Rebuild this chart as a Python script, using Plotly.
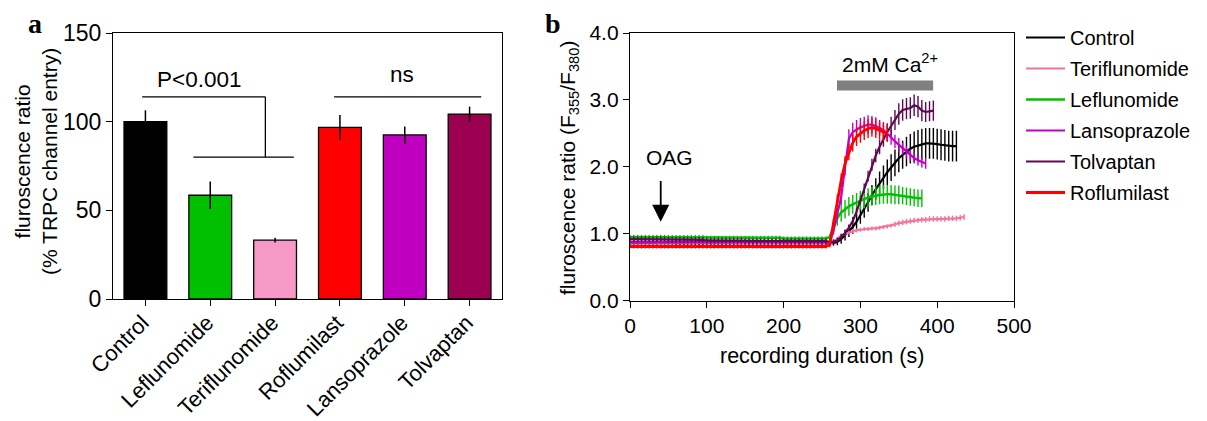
import plotly.graph_objects as go

W, H = 1207, 421

# ---------------- Panel a data ----------------
bar_categories = ["Control", "Leflunomide", "Teriflunomide", "Roflumilast", "Lansoprazole", "Tolvaptan"]
bar_values = [100.0, 58.5, 33.2, 96.8, 92.5, 104.3]
bar_errors = [6.4, 7.8, 1.3, 7.0, 4.8, 4.2]
bar_colors = ["#000000", "#00C000", "#F799C6", "#FF0000", "#C000C0", "#9C0050"]

# ---------------- Panel b data (sampled every 5 s) ----------------
sample_step_s = 5

control_vals = [
    0.86, 0.86, 0.86, 0.86, 0.86, 0.86, 0.86, 0.86, 0.86, 0.86,
    0.86, 0.86, 0.85, 0.85, 0.85, 0.85, 0.85, 0.85, 0.85, 0.85,
    0.85, 0.85, 0.85, 0.85, 0.85, 0.85, 0.85, 0.85, 0.85, 0.85,
    0.85, 0.85, 0.85, 0.85, 0.85, 0.85, 0.85, 0.85, 0.85, 0.85,
    0.85, 0.85, 0.85, 0.85, 0.85, 0.85, 0.85, 0.85, 0.85, 0.85,
    0.85, 0.85,
    0.85, 0.86, 0.88, 0.92, 0.98, 1.04, 1.10, 1.18, 1.27, 1.37,
    1.47, 1.58, 1.67, 1.76, 1.84, 1.92, 1.99, 2.06, 2.13, 2.18,
    2.23, 2.27, 2.30, 2.32, 2.34, 2.35, 2.35, 2.35, 2.34, 2.33,
    2.32, 2.31, 2.31, 2.31,
]
control_err = [
    0.02, 0.02, 0.02, 0.02, 0.02, 0.02, 0.02, 0.02, 0.02, 0.02,
    0.02, 0.02, 0.02, 0.02, 0.02, 0.02, 0.02, 0.02, 0.02, 0.02,
    0.02, 0.02, 0.02, 0.02, 0.02, 0.02, 0.02, 0.02, 0.02, 0.02,
    0.02, 0.02, 0.02, 0.02, 0.02, 0.02, 0.02, 0.02, 0.02, 0.02,
    0.02, 0.02, 0.02, 0.02, 0.02, 0.02, 0.02, 0.02, 0.02, 0.02,
    0.02, 0.02,
    0.03, 0.04, 0.05, 0.07, 0.08, 0.09, 0.10, 0.11, 0.12, 0.13,
    0.14, 0.15, 0.16, 0.17, 0.18, 0.19, 0.20, 0.20, 0.21, 0.21,
    0.22, 0.22, 0.23, 0.23, 0.23, 0.23, 0.23, 0.23, 0.23, 0.23,
    0.23, 0.23, 0.23, 0.23,
]

teri_vals = [
    0.87, 0.87, 0.87, 0.87, 0.87, 0.87, 0.87, 0.87, 0.87, 0.87,
    0.87, 0.87, 0.87, 0.87, 0.87, 0.87, 0.87, 0.87, 0.87, 0.87,
    0.87, 0.87, 0.87, 0.87, 0.87, 0.87, 0.87, 0.87, 0.87, 0.87,
    0.87, 0.87, 0.87, 0.87, 0.87, 0.87, 0.87, 0.87, 0.87, 0.87,
    0.87, 0.87, 0.87, 0.87, 0.87, 0.87, 0.87, 0.87, 0.87, 0.87,
    0.87, 0.87,
    0.86, 0.88, 0.93, 0.97, 1.00, 1.02, 1.04, 1.05, 1.06, 1.07,
    1.07, 1.08, 1.08, 1.09, 1.10, 1.11, 1.12, 1.14, 1.16, 1.17,
    1.18, 1.19, 1.20, 1.20, 1.21, 1.21, 1.22, 1.22, 1.22, 1.22,
    1.22, 1.23, 1.23, 1.23, 1.24, 1.25,
]
teri_err = [
    0.02, 0.02, 0.02, 0.02, 0.02, 0.02, 0.02, 0.02, 0.02, 0.02,
    0.02, 0.02, 0.02, 0.02, 0.02, 0.02, 0.02, 0.02, 0.02, 0.02,
    0.02, 0.02, 0.02, 0.02, 0.02, 0.02, 0.02, 0.02, 0.02, 0.02,
    0.02, 0.02, 0.02, 0.02, 0.02, 0.02, 0.02, 0.02, 0.02, 0.02,
    0.02, 0.02, 0.02, 0.02, 0.02, 0.02, 0.02, 0.02, 0.02, 0.02,
    0.02, 0.02,
    0.02, 0.03, 0.03, 0.03, 0.03, 0.03, 0.03, 0.03, 0.03, 0.03,
    0.03, 0.03, 0.03, 0.03, 0.03, 0.03, 0.03, 0.04, 0.04, 0.04,
    0.04, 0.04, 0.04, 0.04, 0.04, 0.04, 0.04, 0.04, 0.04, 0.04,
    0.04, 0.04, 0.04, 0.04, 0.04, 0.04,
]

lef_vals = [
    0.95, 0.95, 0.95, 0.95, 0.95, 0.95, 0.95, 0.95, 0.95, 0.95,
    0.95, 0.95, 0.95, 0.95, 0.95, 0.95, 0.95, 0.95, 0.95, 0.95,
    0.94, 0.94, 0.94, 0.94, 0.94, 0.94, 0.94, 0.94, 0.94, 0.94,
    0.94, 0.94, 0.94, 0.94, 0.94, 0.94, 0.94, 0.94, 0.94, 0.94,
    0.93, 0.93, 0.93, 0.93, 0.93, 0.93, 0.93, 0.93, 0.93, 0.93,
    0.93, 0.93,
    0.95, 1.10, 1.24, 1.32, 1.37, 1.41, 1.44, 1.47, 1.50, 1.52,
    1.54, 1.56, 1.57, 1.58, 1.59, 1.59, 1.59, 1.58, 1.58, 1.57,
    1.56, 1.55, 1.54, 1.53, 1.53,
]
lef_err = [
    0.03, 0.03, 0.03, 0.03, 0.03, 0.03, 0.03, 0.03, 0.03, 0.03,
    0.03, 0.03, 0.03, 0.03, 0.03, 0.03, 0.03, 0.03, 0.03, 0.03,
    0.03, 0.03, 0.03, 0.03, 0.03, 0.03, 0.03, 0.03, 0.03, 0.03,
    0.03, 0.03, 0.03, 0.03, 0.03, 0.03, 0.03, 0.03, 0.03, 0.03,
    0.03, 0.03, 0.03, 0.03, 0.03, 0.03, 0.03, 0.03, 0.03, 0.03,
    0.03, 0.03,
    0.04, 0.08, 0.12, 0.14, 0.14, 0.14, 0.14, 0.14, 0.14, 0.14,
    0.14, 0.14, 0.14, 0.14, 0.14, 0.14, 0.14, 0.14, 0.14, 0.13,
    0.13, 0.13, 0.13, 0.13, 0.13,
]

lans_vals = [
    0.88, 0.88, 0.88, 0.88, 0.88, 0.88, 0.88, 0.88, 0.88, 0.88,
    0.88, 0.88, 0.88, 0.88, 0.88, 0.88, 0.88, 0.88, 0.88, 0.88,
    0.87, 0.87, 0.87, 0.87, 0.87, 0.87, 0.87, 0.87, 0.87, 0.87,
    0.87, 0.87, 0.87, 0.87, 0.87, 0.87, 0.87, 0.87, 0.87, 0.87,
    0.87, 0.87, 0.87, 0.87, 0.87, 0.87, 0.87, 0.87, 0.87, 0.87,
    0.87, 0.87,
    0.87, 1.05, 1.30, 1.55, 2.00, 2.42, 2.52, 2.56, 2.59, 2.61,
    2.63, 2.63, 2.61, 2.58, 2.55, 2.50, 2.44, 2.38, 2.33, 2.27,
    2.22, 2.17, 2.13, 2.10, 2.07, 2.05,
]
lans_err = [
    0.03, 0.03, 0.03, 0.03, 0.03, 0.03, 0.03, 0.03, 0.03, 0.03,
    0.03, 0.03, 0.03, 0.03, 0.03, 0.03, 0.03, 0.03, 0.03, 0.03,
    0.03, 0.03, 0.03, 0.03, 0.03, 0.03, 0.03, 0.03, 0.03, 0.03,
    0.03, 0.03, 0.03, 0.03, 0.03, 0.03, 0.03, 0.03, 0.03, 0.03,
    0.03, 0.03, 0.03, 0.03, 0.03, 0.03, 0.03, 0.03, 0.03, 0.03,
    0.03, 0.03,
    0.03, 0.06, 0.09, 0.11, 0.13, 0.14, 0.14, 0.14, 0.14, 0.14,
    0.14, 0.13, 0.13, 0.12, 0.12, 0.11, 0.11, 0.10, 0.10, 0.09,
    0.09, 0.09, 0.08, 0.08, 0.08, 0.08,
]

tolv_vals = [
    0.92, 0.92, 0.92, 0.92, 0.92, 0.92, 0.92, 0.92, 0.92, 0.92,
    0.91, 0.91, 0.91, 0.91, 0.91, 0.91, 0.91, 0.91, 0.91, 0.91,
    0.90, 0.90, 0.90, 0.90, 0.90, 0.90, 0.90, 0.90, 0.90, 0.90,
    0.89, 0.89, 0.89, 0.89, 0.89, 0.89, 0.89, 0.89, 0.89, 0.89,
    0.89, 0.89, 0.89, 0.89, 0.89, 0.89, 0.89, 0.89, 0.89, 0.89,
    0.89, 0.89,
    0.88, 0.88, 0.90, 0.95, 1.01, 1.09, 1.19, 1.33, 1.50, 1.68,
    1.86, 2.03, 2.17, 2.30, 2.42, 2.52, 2.61, 2.70, 2.79, 2.85,
    2.87, 2.88, 2.92, 2.90, 2.84, 2.82, 2.83, 2.84,
]
tolv_err = [
    0.04, 0.04, 0.04, 0.04, 0.04, 0.04, 0.04, 0.04, 0.04, 0.04,
    0.04, 0.04, 0.04, 0.04, 0.04, 0.04, 0.04, 0.04, 0.04, 0.04,
    0.04, 0.04, 0.04, 0.04, 0.04, 0.04, 0.04, 0.04, 0.04, 0.04,
    0.04, 0.04, 0.04, 0.04, 0.04, 0.04, 0.04, 0.04, 0.04, 0.04,
    0.04, 0.04, 0.04, 0.04, 0.04, 0.04, 0.04, 0.04, 0.04, 0.04,
    0.04, 0.04,
    0.04, 0.04, 0.04, 0.05, 0.05, 0.05, 0.06, 0.06, 0.06, 0.07,
    0.08, 0.09, 0.10, 0.11, 0.12, 0.13, 0.14, 0.15, 0.16, 0.16,
    0.16, 0.16, 0.16, 0.16, 0.16, 0.15, 0.15, 0.15,
]

rofl_vals = [
    0.81, 0.81, 0.81, 0.81, 0.81, 0.81, 0.81, 0.81, 0.81, 0.81,
    0.81, 0.81, 0.81, 0.81, 0.81, 0.81, 0.81, 0.81, 0.81, 0.81,
    0.81, 0.81, 0.81, 0.81, 0.81, 0.81, 0.81, 0.81, 0.81, 0.81,
    0.81, 0.81, 0.81, 0.81, 0.81, 0.81, 0.81, 0.81, 0.81, 0.81,
    0.81, 0.81, 0.81, 0.81, 0.81, 0.81, 0.81, 0.81, 0.81, 0.81,
    0.81, 0.81,
    0.84, 1.15, 1.50, 1.80, 2.05, 2.22, 2.36, 2.45, 2.50, 2.54,
    2.57, 2.59, 2.57, 2.54, 2.52, 2.50,
]
rofl_err = [
    0.03, 0.03, 0.03, 0.03, 0.03, 0.03, 0.03, 0.03, 0.03, 0.03,
    0.03, 0.03, 0.03, 0.03, 0.03, 0.03, 0.03, 0.03, 0.03, 0.03,
    0.03, 0.03, 0.03, 0.03, 0.03, 0.03, 0.03, 0.03, 0.03, 0.03,
    0.03, 0.03, 0.03, 0.03, 0.03, 0.03, 0.03, 0.03, 0.03, 0.03,
    0.03, 0.03, 0.03, 0.03, 0.03, 0.03, 0.03, 0.03, 0.03, 0.03,
    0.03, 0.03,
    0.04, 0.07, 0.09, 0.10, 0.11, 0.12, 0.13, 0.14, 0.14, 0.14,
    0.14, 0.14, 0.14, 0.13, 0.13, 0.13,
]

series_names = ["Control", "Teriflunomide", "Leflunomide", "Lansoprazole", "Tolvaptan", "Roflumilast"]
series_vals = [control_vals, teri_vals, lef_vals, lans_vals, tolv_vals, rofl_vals]
series_errs = [control_err, teri_err, lef_err, lans_err, tolv_err, rofl_err]
series_colors = ["#000000", "#F4729C", "#00C000", "#C000C8", "#5E0A52", "#FF0000"]
series_widths = [2.2, 2.2, 2.6, 2.2, 2.2, 2.8]

# x/y tick values
a_yticks = [0, 50, 100, 150]
b_xticks = [0, 100, 200, 300, 400, 500]
b_yticks = [0.0, 1.0, 2.0, 3.0, 4.0]

FONT = "Liberation Sans, Arial, sans-serif"
SERIF = "Liberation Serif, Times New Roman, serif"

def px_x(p):
    return p / W

def px_y(p):
    return 1 - p / H

fig = go.Figure()

# Panel a bars
fig.add_trace(go.Bar(
    x=bar_categories, y=bar_values,
    marker=dict(color=bar_colors, line=dict(color="black", width=1.3)),
    width=0.66,
    error_y=dict(type="data", array=bar_errors, visible=True, color="black", thickness=1.5, width=0),
    xaxis="x", yaxis="y", showlegend=False,
))

# Panel b traces
for name, vals, errs, col, lw in zip(series_names, series_vals, series_errs, series_colors, series_widths):
    t = [sample_step_s * i for i in range(len(vals))]
    fig.add_trace(go.Scatter(
        x=t, y=vals, mode="lines", name=name, legendgroup=name,
        line=dict(color=col, width=lw),
        error_y=dict(type="data", array=errs, visible=True, color=col, thickness=1.4, width=0),
        xaxis="x2", yaxis="y2",
    ))

axis_common = dict(
    showline=True, linecolor="black", linewidth=1.3, mirror=True,
    ticks="outside", ticklen=6, tickwidth=1.3, tickcolor="black",
    showgrid=False, zeroline=False, automargin=False,
)

fig.update_layout(
    width=W, height=H,
    margin=dict(l=0, r=0, t=0, b=0, autoexpand=False),
    paper_bgcolor="white", plot_bgcolor="white",
    font=dict(family=FONT, color="black", size=20),
    xaxis=dict(domain=[px_x(113), px_x(502)], anchor="y", type="category",
               range=[-0.5, 5.5], tickangle=-45,
               ticklabelstandoff=-5, ticklabelshift=-3,
               tickfont=dict(size=22), **axis_common),
    yaxis=dict(domain=[px_y(299), px_y(33)], anchor="x", range=[0, 150],
               tickvals=a_yticks, tickfont=dict(size=23), **axis_common),
    xaxis2=dict(domain=[px_x(630), px_x(1014)], anchor="y2", range=[0, 500],
                tickvals=b_xticks, tickfont=dict(size=21), **axis_common),
    yaxis2=dict(domain=[px_y(300.7), px_y(33)], anchor="x2", range=[0, 4],
                tickvals=b_yticks, tickformat=".1f", tickfont=dict(size=21), **axis_common),
    legend=dict(x=px_x(1021), y=px_y(18), xanchor="left", yanchor="top",
                font=dict(size=20), tracegroupgap=2, itemwidth=39,
                bgcolor="rgba(0,0,0,0)"),
)

# Significance brackets (panel a)
line_style = dict(color="black", width=1.3)
shapes = [
    dict(type="line", xref="x", yref="y", x0=-0.05, x1=1.85, y0=114, y1=114, line=line_style),
    dict(type="line", xref="x", yref="y", x0=1.85, x1=1.85, y0=114, y1=80, line=line_style),
    dict(type="line", xref="x", yref="y", x0=0.74, x1=2.29, y0=80, y1=80, line=line_style),
    dict(type="line", xref="x", yref="y", x0=2.91, x1=5.18, y0=114, y1=114, line=line_style),
    # Ca2+ application bar (panel b)
    dict(type="rect", xref="x2", yref="y2", x0=269.5, x1=394.7, y0=3.14, y1=3.29,
         fillcolor="#808080", line=dict(width=0)),
]
fig.update_layout(shapes=shapes)

annotations = [
    dict(text="<b>a</b>", xref="paper", yref="paper", x=px_x(35), y=px_y(24),
         showarrow=False, font=dict(family=SERIF, size=28), xanchor="center", yanchor="middle"),
    dict(text="<b>b</b>", xref="paper", yref="paper", x=px_x(553), y=px_y(24),
         showarrow=False, font=dict(family=SERIF, size=28), xanchor="center", yanchor="middle"),
    dict(text="fluroscence ratio<br>(% TRPC channel entry)", xref="paper", yref="paper",
         x=px_x(36), y=px_y(162), textangle=-90, showarrow=False,
         font=dict(size=21), xanchor="center", yanchor="middle"),
    dict(text="fluroscence ratio (F<sub>355</sub>/F<sub>380</sub>)", xref="paper", yref="paper",
         x=px_x(569), y=px_y(168), textangle=-90, showarrow=False,
         font=dict(size=21), xanchor="center", yanchor="middle"),
    dict(text="recording duration (s)", xref="paper", yref="paper",
         x=px_x(822), y=px_y(356), showarrow=False,
         font=dict(size=21.5), xanchor="center", yanchor="middle"),
    dict(text="P<0.001", xref="x", yref="y", x=0.82, y=123.8, showarrow=False,
         font=dict(size=22.5), xanchor="center", yanchor="middle"),
    dict(text="ns", xref="x", yref="y", x=3.95, y=126.6, showarrow=False,
         font=dict(size=22.5), xanchor="center", yanchor="middle"),
    dict(text="OAG", xref="x2", yref="y2", x=52, y=2.14, showarrow=False,
         font=dict(size=21), xanchor="center", yanchor="middle"),
    dict(text="", xref="x2", yref="y2", x=40, y=1.18, ax=40, ay=1.81,
         axref="x2", ayref="y2", showarrow=True, arrowhead=2, arrowsize=1.9,
         arrowwidth=1.8, arrowcolor="black"),
    dict(text="2mM Ca<sup>2+</sup>", xref="x2", yref="y2", x=273.5, y=3.55, showarrow=False,
         font=dict(size=21), xanchor="left", yanchor="middle"),
]
fig.update_layout(annotations=annotations)

fig.write_html("out.html", config={"displayModeBar": False},
               post_script="document.body.style.margin='0';document.body.style.overflow='hidden';")
